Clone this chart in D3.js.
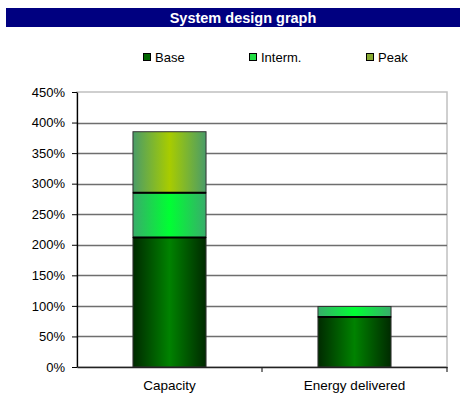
<!DOCTYPE html>
<html><head><meta charset="utf-8">
<script src="https://cdn.jsdelivr.net/npm/d3@7"></script>
<style>body{margin:0;background:#fff;}svg{display:block;font-family:"Liberation Sans",Arial,sans-serif;}</style>
</head><body>
<svg id="c" width="460" height="394"></svg>
<script>
const title = "System design graph";
const categories = ["Capacity", "Energy delivered"];
const seriesNames = ["Base", "Interm.", "Peak"];
const baseVals = [212, 82];
const intermVals = [73, 17];
const peakVals = [100, 0];
const yTicks = [0, 50, 100, 150, 200, 250, 300, 350, 400, 450];

const svg = d3.select("#c");
const W = 460, H = 394;
const m = {l: 77, r: 13, t: 92, b: 27};
const pw = W - m.l - m.r, ph = H - m.t - m.b;

const defs = svg.append("defs");
function grad(id, edge, center){
  const g = defs.append("linearGradient").attr("id", id).attr("x1","0").attr("x2","1").attr("y1","0").attr("y2","0");
  g.append("stop").attr("offset","0%").attr("stop-color", edge);
  g.append("stop").attr("offset","50%").attr("stop-color", center);
  g.append("stop").attr("offset","100%").attr("stop-color", edge);
}
grad("gBase", "#002a00", "#008200");
grad("gInterm", "#38ad6a", "#00ff33");
grad("gPeak", "#4a9c68", "#a8cc00");
const fills = ["url(#gBase)", "url(#gInterm)", "url(#gPeak)"];
const legendColors = ["#006600", "#22dd44", "#88aa33"];

// title bar
svg.append("rect").attr("x", 6).attr("y", 8).attr("width", W - 6).attr("height", 19).attr("fill", "#000080");
svg.append("text").attr("x", 243).attr("y", 23).attr("text-anchor", "middle")
  .attr("fill", "#fff").attr("font-weight", "bold").attr("font-size", 14.5).text(title);

// legend
const legX = [143, 249, 366];
seriesNames.forEach((n, i) => {
  svg.append("rect").attr("x", legX[i] + 0.5).attr("y", 53.5).attr("width", 7).attr("height", 7)
    .attr("fill", legendColors[i]).attr("stroke", "#000").attr("stroke-width", 1);
  svg.append("text").attr("x", legX[i] + 12).attr("y", 62).attr("font-size", 13).attr("fill", "#000").text(n);
});

const x = d3.scaleBand().domain(categories).range([m.l, m.l + pw]).paddingInner(0).paddingOuter(0);
const y = d3.scaleLinear().domain([0, 450]).range([m.t + ph, m.t]);

const g = svg.append("g");
g.append("rect").attr("x", m.l).attr("y", m.t).attr("width", pw).attr("height", ph)
  .attr("fill", "none").attr("stroke", "#c0c0c0").attr("stroke-width", 1.5);
g.selectAll(".grid").data(yTicks.filter(t => t > 0 && t < 450)).join("line")
  .attr("x1", m.l).attr("x2", m.l + pw)
  .attr("y1", d => Math.round(y(d)) + 0.5).attr("y2", d => Math.round(y(d)) + 0.5)
  .attr("stroke", "#6e6e6e").attr("stroke-width", 1.3);

const data = categories.map((c, i) => ({cat: c, vals: [baseVals[i], intermVals[i], peakVals[i]]}));
const bw = x.bandwidth() * 0.395;
data.forEach(d => {
  const cx = x(d.cat) + x.bandwidth() / 2;
  let acc = 0;
  const segs = [];
  d.vals.forEach((v, k) => { if (v > 0) segs.push({k, y0: acc, y1: acc + v}); acc += v; });
  segs.forEach(s => {
    g.append("rect").attr("x", cx - bw / 2).attr("width", bw)
      .attr("y", y(s.y1)).attr("height", y(s.y0) - y(s.y1))
      .attr("fill", fills[s.k]).attr("stroke", "#333").attr("stroke-width", 1);
  });
  segs.slice(1).forEach(s => {
    g.append("line").attr("x1", cx - bw / 2).attr("x2", cx + bw / 2)
      .attr("y1", y(s.y0)).attr("y2", y(s.y0)).attr("stroke", "#000").attr("stroke-width", 2);
  });
});

const ya = d3.axisLeft(y).tickValues(yTicks).tickFormat(d => d + "%").tickSize(5).tickSizeOuter(0);
const yg = svg.append("g").attr("transform", `translate(${m.l},0)`).call(ya);
yg.select(".domain").attr("stroke", "#000").attr("stroke-width", 1.3);
yg.selectAll(".tick line").attr("stroke", "#000");
yg.selectAll(".tick text").attr("font-size", 13).attr("fill", "#000").attr("x", -12)
  .attr("font-family", "Liberation Sans, Arial, sans-serif");

const xa = d3.axisBottom(x).tickSize(0).tickSizeOuter(0);
const xg = svg.append("g").attr("transform", `translate(0,${m.t + ph})`).call(xa);
xg.select(".domain").attr("stroke", "#222").attr("stroke-width", 1.3);
xg.selectAll(".tick text").attr("font-size", 13.5).attr("fill", "#000").attr("dy", 0).attr("y", 23)
  .attr("font-family", "Liberation Sans, Arial, sans-serif");
g.selectAll(".sep").data([categories[1]]).join("line")
  .attr("x1", d => x(d)).attr("x2", d => x(d))
  .attr("y1", m.t + ph).attr("y2", m.t + ph + 5).attr("stroke", "#000");
g.append("line").attr("x1", m.l + pw).attr("x2", m.l + pw)
  .attr("y1", m.t + ph).attr("y2", m.t + ph + 5).attr("stroke", "#000");
</script>
</body></html>
